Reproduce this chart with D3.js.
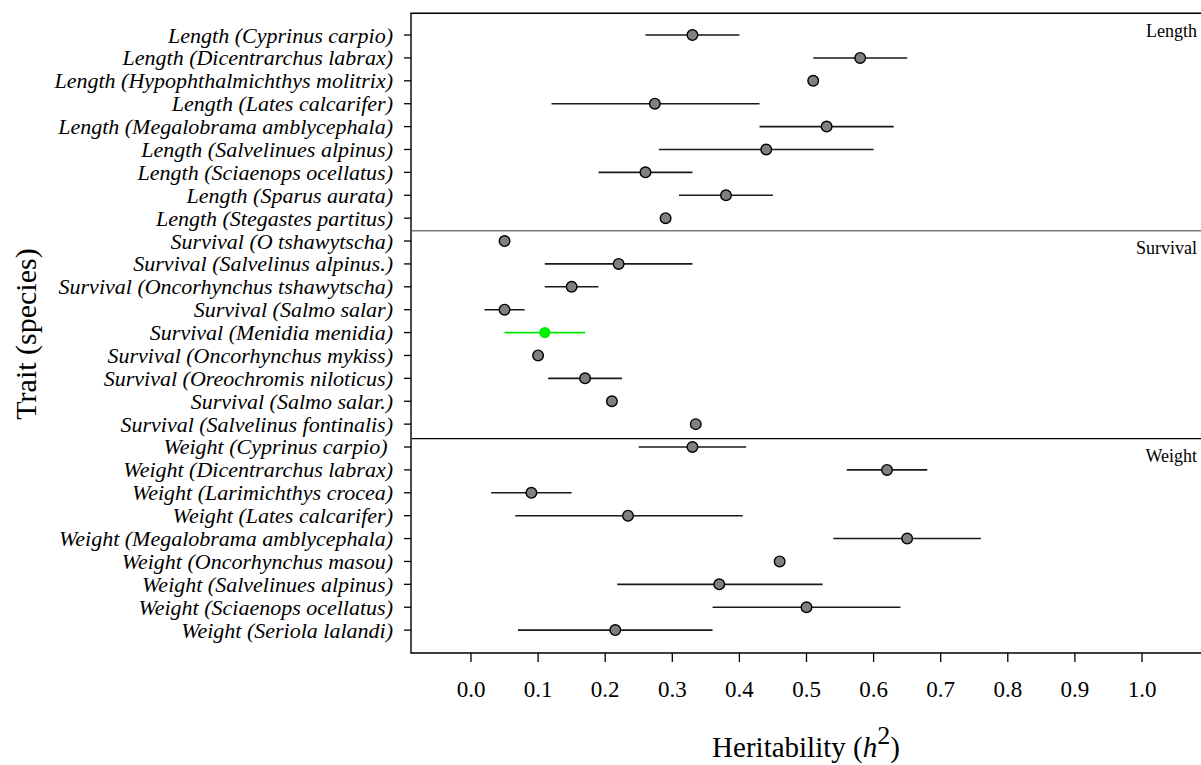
<!DOCTYPE html>
<html>
<head>
<meta charset="utf-8">
<script src="https://cdn.jsdelivr.net/npm/d3@7"></script>
<style>
  body { margin: 0; background: #fff; }
  svg { display: block; font-family: "Liberation Serif", "Times New Roman", serif; }
</style>
</head>
<body>
<div id="chart"></div>
<script>
// trait (species), top to bottom
const traits = [
    "Length (Cyprinus carpio)",
    "Length (Dicentrarchus labrax)",
    "Length (Hypophthalmichthys molitrix)",
    "Length (Lates calcarifer)",
    "Length (Megalobrama amblycephala)",
    "Length (Salvelinues alpinus)",
    "Length (Sciaenops ocellatus)",
    "Length (Sparus aurata)",
    "Length (Stegastes partitus)",
    "Survival (O tshawytscha)",
    "Survival (Salvelinus alpinus.)",
    "Survival (Oncorhynchus tshawytscha)",
    "Survival (Salmo salar)",
    "Survival (Menidia menidia)",
    "Survival (Oncorhynchus mykiss)",
    "Survival (Oreochromis niloticus)",
    "Survival (Salmo salar.)",
    "Survival (Salvelinus fontinalis)",
    "Weight (Cyprinus carpio) ",
    "Weight (Dicentrarchus labrax)",
    "Weight (Larimichthys crocea)",
    "Weight (Lates calcarifer)",
    "Weight (Megalobrama amblycephala)",
    "Weight (Oncorhynchus masou)",
    "Weight (Salvelinues alpinus)",
    "Weight (Sciaenops ocellatus)",
    "Weight (Seriola lalandi)"
];

// heritability estimate and interval (null = no interval reported)
const estimates = [0.33, 0.58, 0.51, 0.274, 0.53, 0.44, 0.26, 0.38, 0.29,
                   0.05, 0.22, 0.15, 0.05, 0.11, 0.10, 0.17, 0.21, 0.335,
                   0.33, 0.62, 0.09, 0.234, 0.65, 0.46, 0.37, 0.50, 0.215];
const lowerCI = [0.26, 0.51, null, 0.12, 0.43, 0.28, 0.19, 0.31, null,
                 null, 0.11, 0.11, 0.02, 0.05, null, 0.115, null, null,
                 0.25, 0.56, 0.03, 0.066, 0.54, null, 0.218, 0.36, 0.07];
const upperCI = [0.40, 0.65, null, 0.43, 0.63, 0.60, 0.33, 0.45, null,
                 null, 0.33, 0.19, 0.08, 0.17, null, 0.225, null, null,
                 0.41, 0.68, 0.15, 0.405, 0.76, null, 0.524, 0.64, 0.36];

const highlighted = ["Survival (Menidia menidia)"];

// trait groups and where each block starts (in row units)
const groups = ["Length", "Survival", "Weight"];
const groupStarts = [-0.95, 8.55, 17.63];

const xTicks = [0, 0.1, 0.2, 0.3, 0.4, 0.5, 0.6, 0.7, 0.8, 0.9, 1.0];

const width = 1201, height = 765;

const svg = d3.select("#chart").append("svg")
    .attr("width", width)
    .attr("height", height);

const x = d3.scaleLinear().domain([0, 1]).range([471, 1142]);
const y = d3.scaleLinear().domain([-0.95, 27]).range([13.3, 653]);

const plotLeft = 411, plotRight = width + 2;
const plotTop = y(-0.95), plotBottom = y(27);

// box (right side falls outside the picture)
svg.append("path")
    .attr("d", `M${plotRight},${plotTop}H${plotLeft}V${plotBottom}H${plotRight}`)
    .attr("fill", "none")
    .attr("stroke", "#000")
    .attr("stroke-width", 1.4);

// separators between trait blocks
const sepStyle = [null, { c: "#7a7a7a", w: 1.7 }, { c: "#000", w: 1.2 }];
groupStarts.forEach((s, i) => {
    if (i === 0) return;
    svg.append("line")
        .attr("x1", plotLeft + 1).attr("x2", plotRight)
        .attr("y1", y(s)).attr("y2", y(s))
        .attr("stroke", sepStyle[i].c)
        .attr("stroke-width", sepStyle[i].w);
});

// group labels top-right
svg.append("g")
    .selectAll("text")
    .data(groups)
    .join("text")
    .attr("x", 1197)
    .attr("y", (d, i) => y(groupStarts[i]) + 23.5)
    .attr("text-anchor", "end")
    .style("font-size", "18px")
    .text(d => d);

// y axis ticks + labels
const rows = traits.map((t, i) => ({
    trait: t, i, est: estimates[i], lo: lowerCI[i], hi: upperCI[i],
    hl: highlighted.includes(t)
}));

const yAxis = svg.append("g");
yAxis.selectAll("line")
    .data(rows)
    .join("line")
    .attr("x1", plotLeft - 7).attr("x2", plotLeft)
    .attr("y1", d => y(d.i)).attr("y2", d => y(d.i))
    .attr("stroke", "#000").attr("stroke-width", 1.3);
yAxis.selectAll("text")
    .data(rows)
    .join("text")
    .attr("x", 393)
    .attr("y", d => y(d.i))
    .attr("dy", "0.34em")
    .attr("text-anchor", "end")
    .style("font-size", "22px")
    .style("font-style", "italic")
    .style("white-space", "pre")
    .text(d => d.trait);

// x axis ticks + labels
const xAxis = svg.append("g");
xAxis.selectAll("line")
    .data(xTicks)
    .join("line")
    .attr("x1", d => x(d)).attr("x2", d => x(d))
    .attr("y1", plotBottom).attr("y2", plotBottom + 9)
    .attr("stroke", "#000").attr("stroke-width", 1.3);
xAxis.selectAll("text")
    .data(xTicks)
    .join("text")
    .attr("x", d => x(d))
    .attr("y", 697)
    .attr("text-anchor", "middle")
    .style("font-size", "23px")
    .text(d => d.toFixed(1));

// axis titles
const xt = svg.append("text")
    .attr("x", 806).attr("y", 757)
    .attr("text-anchor", "middle")
    .style("font-size", "29px");
xt.append("tspan").text("Heritability (");
xt.append("tspan").style("font-style", "italic").text("h");
xt.append("tspan").attr("dy", -13).style("font-size", "26px").text("2");
xt.append("tspan").attr("dy", 13).text(")");

svg.append("text")
    .attr("transform", `translate(36,334) rotate(-90)`)
    .attr("text-anchor", "middle")
    .style("font-size", "30px")
    .text("Trait (species)");

// intervals
svg.append("g")
    .selectAll("line")
    .data(rows.filter(d => d.lo != null))
    .join("line")
    .attr("x1", d => x(d.lo)).attr("x2", d => x(d.hi))
    .attr("y1", d => y(d.i)).attr("y2", d => y(d.i))
    .attr("stroke", d => d.hl ? "#00e600" : "#1a1a1a")
    .attr("stroke-width", 1.6);

// point estimates
svg.append("g")
    .selectAll("circle")
    .data(rows)
    .join("circle")
    .attr("cx", d => x(d.est))
    .attr("cy", d => y(d.i))
    .attr("r", d => d.hl ? 5.6 : 5.3)
    .attr("fill", d => d.hl ? "#00ee00" : "#808080")
    .attr("stroke", d => d.hl ? "none" : "#000")
    .attr("stroke-width", 1.4);
</script>
</body>
</html>
